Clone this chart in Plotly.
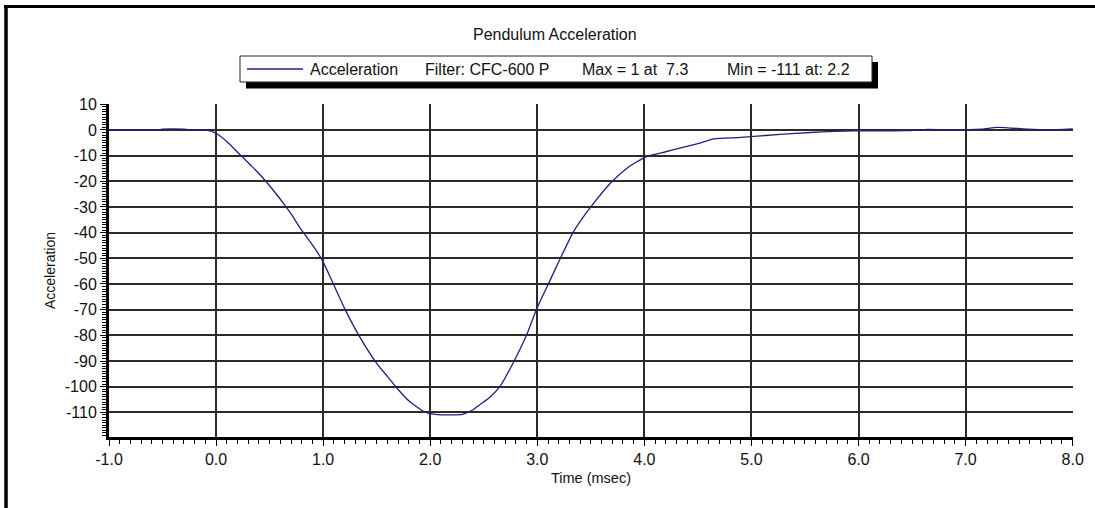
import numpy as np
import plotly.graph_objects as go

# pendulum acceleration trace
time_ms = [-1.0, -0.55, -0.5, -0.3, -0.2, -0.1, 0.0, 0.1, 0.22, 0.33, 0.44, 0.53,
           0.63, 0.71, 0.79, 0.9, 0.99, 1.09, 1.2, 1.34, 1.5, 1.6, 1.69, 1.8,
           1.94, 2.05, 2.2, 2.3, 2.4, 2.46, 2.56, 2.65, 2.78, 2.9, 2.99, 3.12,
           3.21, 3.34, 3.5, 3.7, 3.85, 4.02, 4.2, 4.33, 4.5, 4.65, 4.9, 5.27,
           5.55, 5.95, 6.45, 6.65, 6.87, 7.15, 7.3, 7.57, 7.77, 8.0]
accel = [0.0, 0.0, 0.3, 0.3, 0.0, 0.0, -1.3, -4.5, -9.5, -14.0, -18.8, -23.3,
         -28.6, -33.3, -38.5, -44.8, -50.6, -59.5, -69.5, -80.5, -90.9, -96.0, -100.6, -105.5,
         -109.7, -110.8, -111.0, -110.8, -109.0, -107.1, -104.0, -100.0, -90.3, -79.9, -70.1, -58.5,
         -50.5, -39.5, -30.0, -20.0, -14.5, -10.4, -8.5, -7.1, -5.3, -3.5, -2.9, -1.7,
         -1.0, -0.4, -0.3, 0.2, 0.0, 0.3, 1.0, 0.3, 0.0, 0.4]

x_ticks = [-1.0, 0.0, 1.0, 2.0, 3.0, 4.0, 5.0, 6.0, 7.0, 8.0]
x_tick_labels = ["-1.0", "0.0", "1.0", "2.0", "3.0", "4.0", "5.0", "6.0", "7.0", "8.0"]
y_ticks = [10, 0, -10, -20, -30, -40, -50, -60, -70, -80, -90, -100, -110]
y_tick_labels = ["10", "0", "-10", "-20", "-30", "-40", "-50", "-60", "-70", "-80", "-90", "-100", "-110"]

series_name = "Acceleration"
filter_name = "Filter: CFC-600 P"
chart_title = "Pendulum Acceleration"

i_max = int(np.argmax(accel))
i_min = int(np.argmin(accel))
max_text = "Max = %d at\u00a0 %.1f" % (round(accel[i_max]), time_ms[i_max])
min_text = "Min = %d at: %.1f" % (round(accel[i_min]), time_ms[i_min])

W, H = 1095, 508
L, R, T, B = 109, 22, 104, 71
PW, PH = W - L - R, H - T - B


def px(x):
    return (x - L) / PW


def py(y):
    return (H - B - y) / PH


FONT = "Liberation Sans, Arial, sans-serif"
LINE_COL = "#20207e"
TXT = "#111111"

fig = go.Figure()
fig.add_trace(go.Scatter(x=time_ms, y=accel, mode="lines", name=series_name,
                         line=dict(color=LINE_COL, width=1.3, shape="spline", smoothing=0.6),
                         showlegend=False))

shapes = []
# outer frame (top and left edges only)
shapes.append(dict(type="line", xref="paper", yref="paper", x0=px(4), x1=px(W), y0=py(6.5), y1=py(6.5),
                   line=dict(color="black", width=3)))
shapes.append(dict(type="line", xref="paper", yref="paper", x0=px(6), x1=px(6), y0=py(5), y1=py(H),
                   line=dict(color="black", width=3.5)))
# legend box with drop shadow
shapes.append(dict(type="rect", xref="paper", yref="paper", x0=px(246), x1=px(878), y0=py(62), y1=py(88.5),
                   fillcolor="black", line=dict(width=0), layer="below"))
shapes.append(dict(type="rect", xref="paper", yref="paper", x0=px(240), x1=px(872), y0=py(56), y1=py(82),
                   fillcolor="white", line=dict(color="#222222", width=1)))
shapes.append(dict(type="line", xref="paper", yref="paper", x0=px(247), x1=px(303), y0=py(69), y1=py(69),
                   line=dict(color=LINE_COL, width=1.3)))

annotations = []
for txt, x0 in [(series_name, 308), (filter_name, 423), (max_text, 580), (min_text, 725)]:
    annotations.append(dict(text=txt, xref="paper", yref="paper", x=px(x0), y=py(69),
                            xanchor="left", yanchor="middle", showarrow=False,
                            font=dict(family=FONT, size=16, color=TXT)))
annotations.append(dict(text=chart_title, xref="paper", yref="paper", x=px(555), y=py(35),
                        xanchor="center", yanchor="middle", showarrow=False,
                        font=dict(family=FONT, size=16, color=TXT)))

fig.update_layout(
    width=W, height=H,
    margin=dict(l=L, r=R, t=T, b=B),
    paper_bgcolor="white", plot_bgcolor="white",
    font=dict(family=FONT, size=16, color=TXT),
    shapes=shapes, annotations=annotations,
)

fig.update_xaxes(
    range=[-1.0, 8.003], tickmode="array", tickvals=x_ticks, ticktext=x_tick_labels,
    showgrid=True, gridcolor="#2a2a2a", gridwidth=1.5, zeroline=False,
    showline=True, linecolor="black", linewidth=3,
    ticks="outside", ticklen=6, tickwidth=1, tickcolor="black",
    minor=dict(dtick=0.1, tick0=-1.0, ticks="outside", ticklen=4, tickcolor="black", showgrid=False),
    tickfont=dict(size=16),
    title=dict(text="Time (msec)", font=dict(size=14.5), standoff=6),
)
fig.update_yaxes(
    range=[-119.6, 10.1], tickmode="array", tickvals=y_ticks, ticktext=y_tick_labels,
    showgrid=True, gridcolor="#2a2a2a", gridwidth=1.5, zeroline=False,
    showline=True, linecolor="black", linewidth=3,
    ticks="outside", ticklen=6, tickwidth=1, tickcolor="black",
    minor=dict(dtick=1, tick0=0, ticks="outside", ticklen=4, tickcolor="black", showgrid=False),
    tickfont=dict(size=16),
    title=dict(text="Acceleration", font=dict(size=14), standoff=6),
)

# page body margin would shift the whole figure by 8px
fig.write_html("out.html", config={"displayModeBar": False},
               post_script="document.body.style.margin='0';")
